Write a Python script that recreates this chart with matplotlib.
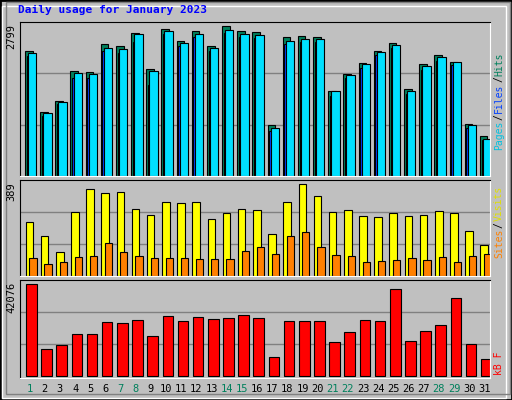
import matplotlib
matplotlib.use("Agg")
import matplotlib.pyplot as plt
from matplotlib.patches import Rectangle

days = list(range(1, 32))
weekend = [1, 7, 8, 14, 15, 21, 22, 28, 29]
hits = [2340,1196,1412,1965,1946,2474,2436,2671,2003,2760,2519,2722,2436,2799,2722,2690,948,2608,2627,2595,1584,1902,2118,2347,2480,1622,2092,2264,2137,973,757]
files = [2309,1177,1386,1921,1902,2398,2379,2652,1959,2722,2493,2665,2398,2741,2665,2646,890,2531,2569,2569,1584,1883,2092,2321,2455,1596,2054,2226,2137,948,700]
pages = [2250,1130,1340,1840,1840,2330,2310,2500,1704,2660,2440,2600,2330,2680,2600,2590,850,2470,2500,2500,1500,1830,2030,2260,2400,1540,1980,2160,2080,900,670]
visits = [228,169,101,271,368,351,355,283,258,313,309,313,241,266,283,279,178,313,389,338,271,279,254,249,266,254,258,275,266,190,131]
sites = [76,51,59,80,85,139,101,85,76,76,76,72,72,72,106,123,93,169,186,123,89,85,59,63,68,76,68,80,59,85,93]
kbytes = [42076,12174,13869,18954,18954,24502,24040,25427,18030,27276,24964,26813,25889,26351,27738,26351,8321,24964,24964,24964,15256,19879,25427,24964,39758,15718,20341,23115,35597,14331,7859]

W, H = 512, 400
fig = plt.figure(figsize=(W/100, H/100), dpi=100, facecolor="#c0c0c0")
mono = "DejaVu Sans Mono"

fig.patches.append(Rectangle((0, 0), 1, 1, transform=fig.transFigure, fill=False, edgecolor="black", lw=2))
fig.patches.append(Rectangle((2/W, 2/H), 1-8/W, 1-8/H, transform=fig.transFigure, fill=False, edgecolor="white", lw=1))
fig.patches.append(Rectangle((6/W, 6/H), 1-8/W, 1-8/H, transform=fig.transFigure, fill=False, edgecolor="#808080", lw=1))

def mk(top, bot):
    ax = fig.add_axes([20/W, (H-bot)/H, 470/W, (bot-top)/H])
    ax.set_facecolor("#c0c0c0")
    ax.set_xlim(0, 31)
    ax.set_xticks([]); ax.set_yticks([])
    for s in ax.spines.values():
        s.set_color("black")
    ax.spines["right"].set_color("white"); ax.spines["bottom"].set_color("white")
    return ax

x0 = [d - 1 for d in days]
ax1 = mk(22, 176)
ax1.set_ylim(0, 2882)
for g in (2882/3, 2*2882/3):
    ax1.axhline(g, color="#808080", lw=1, zorder=0)
ax1.bar([x+0.33 for x in x0], hits, 0.5, align="edge", color="#00805c", edgecolor="black", lw=0.8)
ax1.bar([x+0.44 for x in x0], pages, 0.5, align="edge", color="#0040ff", edgecolor="black", lw=0.8)
ax1.bar([x+0.53 for x in x0], files, 0.55, align="edge", color="#00e0ff", edgecolor="black", lw=0.8)

ax2 = mk(180, 276)
ax2.set_ylim(0, 407)
for g in (407/3, 2*407/3):
    ax2.axhline(g, color="#808080", lw=1, zorder=0)
ax2.bar([x+0.37 for x in x0], visits, 0.5, align="edge", color="#ffff00", edgecolor="black", lw=0.8)
ax2.bar([x+0.61 for x in x0], sites, 0.48, align="edge", color="#ff8000", edgecolor="black", lw=0.8)

ax3 = mk(280, 378)
ax3.set_ylim(-1100, 43925)
for g in (43925/3, 2*43925/3):
    ax3.axhline(g, color="#808080", lw=1, zorder=0)
ax3.bar([x+0.4 for x in x0], kbytes, 0.7, align="edge", color="#ff0000", edgecolor="black", lw=0.8)

fig.text(18/W, 1-5/H, "Daily usage for January 2023", color="#0000ff", fontsize=8, fontweight="bold", family=mono, va="top")
for val, top in (("2799", 24), ("389", 182), ("42076", 282)):
    fig.text(11/W, 1-top/H, val, rotation=90, fontsize=7.5, family=mono, ha="center", va="top")
for d in days:
    fig.text((20 + (d-0.5)*470/31 + 2)/W, 1-389/H, str(d), fontsize=7.5, family=mono, ha="center", va="center",
             color="#00805c" if d in weekend else "black")

fig.canvas.draw()
renderer = fig.canvas.get_renderer()

def side(parts, ybot):
    y = ybot
    for txt, col in parts:
        t = fig.text(499/W, 1-y/H, txt, rotation=90, fontsize=7, family=mono, color=col, ha="center", va="bottom")
        bb = t.get_window_extent(renderer)
        y -= bb.height + 1

side([("Pages", "#00c0e0"), ("/", "black"), ("Files", "#0040ff"), ("/", "black"), ("Hits", "#00805c")], 150)
side([("Sites", "#ff8000"), ("/", "black"), ("Visits", "#e0e000")], 258)
side([("kB F", "#ff0000")], 375)

fig.savefig("out.png", dpi=100, facecolor=fig.get_facecolor())
